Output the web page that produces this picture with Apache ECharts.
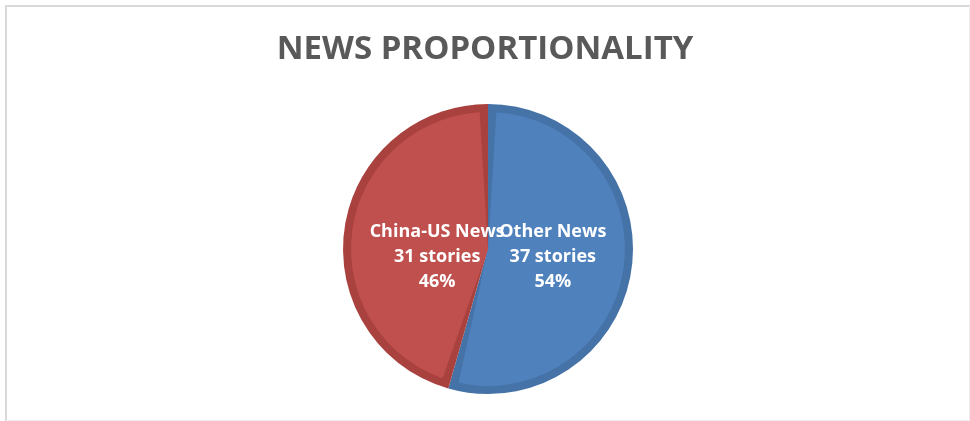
<!DOCTYPE html>
<html><head><meta charset="utf-8">
<script src="https://cdn.jsdelivr.net/npm/echarts@6/dist/echarts.min.js"></script>
<style>html,body{margin:0;padding:0;background:#fff}#c{width:970px;height:421px}</style>
</head><body><div id="c"></div>
<script>
const titleText = 'NEWS PROPORTIONALITY';
const categories = ['Other News', 'China-US News'];
const values = [37, 31];
const percents = ['54%', '46%'];
const fillColors = ['#4F81BD', '#C0504D'];
const edgeColors = ['#4572A7', '#A9413F'];

const chart = echarts.init(document.getElementById('c'));
const baseData = categories.map((c, i) => ({ name: c, value: values[i], itemStyle: { color: edgeColors[i] } }));
const topData = categories.map((c, i) => ({
  name: c, value: values[i], itemStyle: { color: fillColors[i] },
  label: { offset: i === 0 ? [-6, -2] : [20, 18] }
}));
chart.setOption({
  animation: false,
  backgroundColor: '#fff',
  title: {
    text: titleText, left: 'center', top: 28,
    textStyle: { fontFamily: 'Open Sans', fontWeight: 'bold', fontSize: 33, color: '#595959' }
  },
  graphic: [
    { type: 'line', shape: { x1: 6, y1: 6, x2: 6, y2: 421 }, style: { stroke: '#D9D9D9', lineWidth: 2 }, silent: true },
    { type: 'line', shape: { x1: 5, y1: 6, x2: 970, y2: 6 }, style: { stroke: '#D9D9D9', lineWidth: 2 }, silent: true },
    { type: 'line', shape: { x1: 969.5, y1: 6, x2: 969.5, y2: 421 }, style: { stroke: '#EEEEEE', lineWidth: 1 }, silent: true },
    { type: 'line', shape: { x1: 6, y1: 420.5, x2: 970, y2: 420.5 }, style: { stroke: '#EEEEEE', lineWidth: 1 }, silent: true }
  ],
  series: [{
    type: 'pie', center: [488, 249], radius: [0, 145], startAngle: 90, clockwise: true,
    data: baseData, label: { show: false }, labelLine: { show: false }, silent: true,
    itemStyle: { borderWidth: 0 }
  }, {
    type: 'pie', center: [488, 249], radius: [0, 137], startAngle: 90, clockwise: true,
    padAngle: 7, data: topData, silent: true, avoidLabelOverlap: false,
    labelLayout: { hideOverlap: false },
    itemStyle: { borderWidth: 0 },
    label: {
      show: true, position: 'inner', color: '#fff', fontFamily: 'Open Sans', fontWeight: 'bold',
      fontSize: 18, lineHeight: 25, align: 'center',
      formatter: p => p.name + '\n' + p.value + ' stories\n' + percents[p.dataIndex]
    },
    labelLine: { show: false }
  }]
});
</script></body></html>
